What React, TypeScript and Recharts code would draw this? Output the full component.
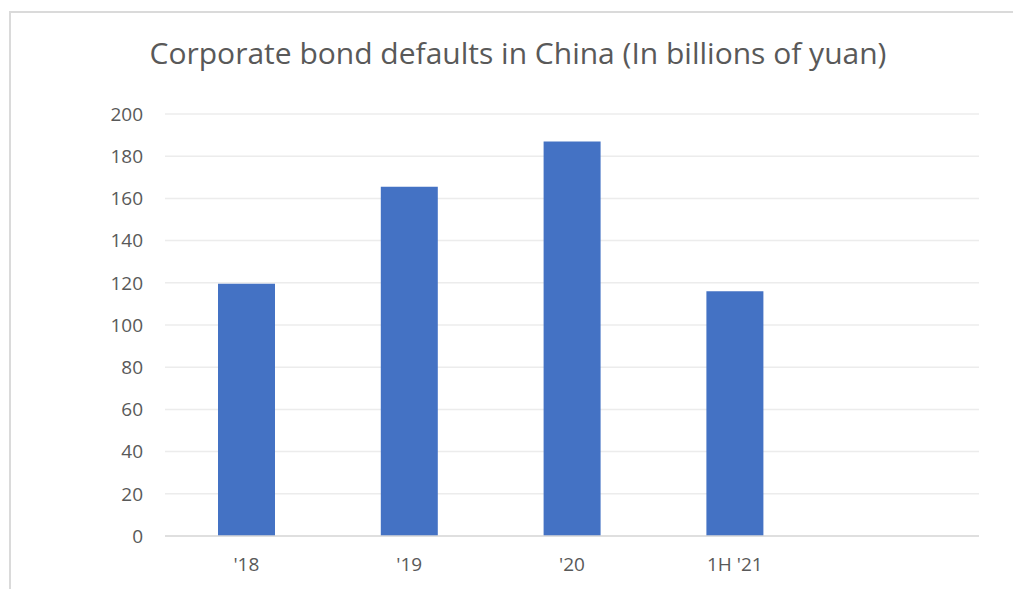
import { BarChart, Bar, XAxis, YAxis, CartesianGrid } from 'recharts';

// ─── Data ──────────────────────────────────────────────────────────────────
const categories = ["'18", "'19", "'20", "1H '21", ''];
const defaults = [119.5, 165.5, 187, 116, null];
const yTicks = [0, 20, 40, 60, 80, 100, 120, 140, 160, 180, 200];

const chartData = categories.map((name, i) => ({ name, value: defaults[i] }));

const FONT = '"Open Sans", sans-serif';
const tickStyle = { fill: '#595959', fontSize: 19, fontFamily: FONT };

export default function App() {
  return (
    <div
      style={{
        position: 'absolute',
        left: 0,
        top: 0,
        width: 1013,
        height: 589,
        background: '#fff',
        overflow: 'hidden',
      }}
    >
      {/* frame edge (top + left) */}
      <div
        style={{
          position: 'absolute',
          left: 9,
          top: 11,
          width: 1013,
          height: 589,
          borderTop: '2px solid #dadada',
          borderLeft: '2px solid #dadada',
        }}
      />
      <div
        style={{
          position: 'absolute',
          left: 0,
          top: 38,
          width: 1036,
          textAlign: 'center',
          fontFamily: FONT,
          fontSize: 30,
          lineHeight: '30px',
          color: '#595959',
          whiteSpace: 'nowrap',
        }}
      >
        Corporate bond defaults in China (In billions of yuan)
      </div>
      <div style={{ position: 'absolute', left: 0, top: 0 }}>
        <BarChart
          width={1013}
          height={589}
          data={chartData}
          margin={{ top: 114, right: 34, left: 105, bottom: 12 }}
        >
          <CartesianGrid stroke="#ececec" strokeWidth={1.5} vertical={false} />
          <XAxis
            dataKey="name"
            tick={tickStyle}
            axisLine={{ stroke: '#d9d9d9', strokeWidth: 1.5 }}
            tickLine={false}
            tickSize={0}
            tickMargin={22}
            height={41}
            interval={0}
          />
          <YAxis
            domain={[0, 200]}
            ticks={yTicks}
            tick={tickStyle}
            axisLine={false}
            tickLine={false}
            tickSize={0}
            tickMargin={22}
            width={60}
          />
          <Bar dataKey="value" fill="#4472c4" barSize={57} isAnimationActive={false} />
        </BarChart>
      </div>
    </div>
  );
}
